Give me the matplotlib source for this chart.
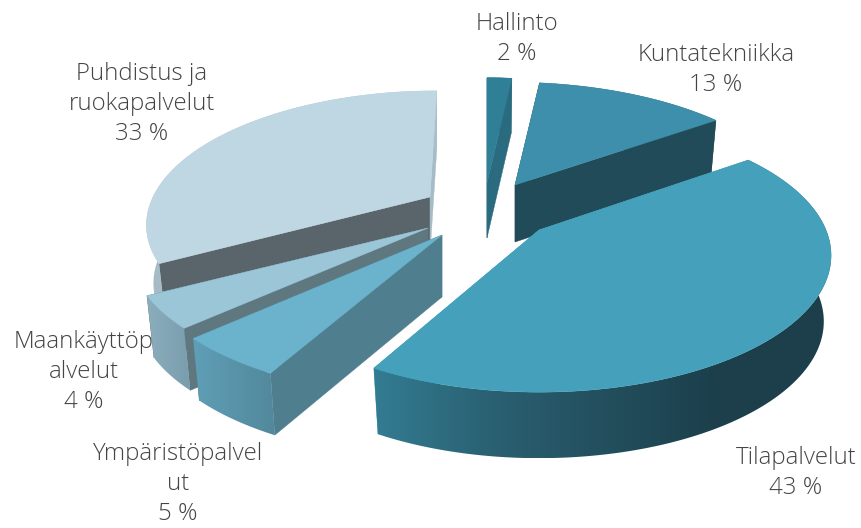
#!/usr/bin/python
import numpy as np
import matplotlib
matplotlib.use("Agg")
import matplotlib.pyplot as plt
from matplotlib.colors import LinearSegmentedColormap
from matplotlib.patches import Polygon

# data, clockwise from 12 o'clock
labels = ["Hallinto", "Kuntatekniikka", "Tilapalvelut",
          "Ympäristöpalvel\nut", "Maankäyttöp\nalvelut", "Puhdistus ja\nruokapalvelut"]
shares = [2, 13, 43, 5, 4, 33]

# per slice look: exploded apex, radii, thickness, lean
apex_x = [487, 515, 539, 442, 428, 430]
apex_y = [183, 185, 230, 235, 228, 197]
rad_x = [235, 280, 287, 298, 292, 277]
rad_y = [125, 122, 132, 132, 128, 126]
thick = [55, 57, 66, 62, 62, 58]
lean = [0, 0.05, 0, 0, 0, -0.064]
top_col = ["#2f7f97", "#3e8fab", "#45a1bb", "#6bb3cc", "#9ac6d8", "#bfd7e2"]
side_col = ["#2a6b7f", "#224b59", "#45a1bb", "#4f7f8f", "#5f7880", "#5a656b"]
end_col = ["#2a6b7f", "#224b59", "#45a1bb", "#4f7f8f", "#5f7880", "#a5bcc6"]
rim_col = [("#2a6b7f", "#2a6b7f"), ("#224b59", "#224b59"),
           ("#337c92", "#2a6173", "#234f5e", "#1c3f4b", "#1c3f4b"),
           ("#5f9fb6", "#52889c"), ("#8badbc", "#7a9dae"), ("#a5bcc6", "#a9c0c9")]
label_x = [517, 716, 796, 178, 84, 142]
label_y = [39, 70, 473, 484, 372, 104]
draw_order = [0, 1, 5, 4, 3, 2]
persp = 0.186

fig = plt.figure(figsize=(8.62, 5.28), dpi=100)
ax = fig.add_axes([0, 0, 1, 1])

edges = np.concatenate([[0], np.cumsum(shares)]) * 2 * np.pi / sum(shares)


def rim(i, th, drop=0.0, squeeze=1.0):
    d = 1 + persp * np.cos(th)
    dy = -rad_y[i] * np.cos(th) / d
    x = apex_x[i] + squeeze * rad_x[i] * np.sin(th) / d + lean[i] * dy
    y = apex_y[i] + drop + dy
    return np.column_stack([x, y])


for n, i in enumerate(draw_order):
    z = 10 * (n + 1)
    th = np.linspace(edges[i], edges[i + 1], 160)
    top = rim(i, th)
    low = rim(i, th, thick[i], 0.975)
    a = (apex_x[i], apex_y[i])
    b = (apex_x[i], apex_y[i] + thick[i])

    # the two cut faces
    ax.fill([a[0], top[0, 0], low[0, 0], b[0]], [a[1], top[0, 1], low[0, 1], b[1]],
            color=side_col[i], lw=0.3, zorder=z)
    ax.fill([a[0], top[-1, 0], low[-1, 0], b[0]], [a[1], top[-1, 1], low[-1, 1], b[1]],
            color=end_col[i], lw=0.3, zorder=z)

    # outer wall, shaded across the screen
    cmap = LinearSegmentedColormap.from_list("rim%d" % i, rim_col[i])
    wall = Polygon(np.vstack([top, low[::-1]]), closed=True, fc="none", ec="none",
                   transform=ax.transData)
    ax.add_patch(wall)
    x0, x1 = min(top[:, 0].min(), low[:, 0].min()), max(top[:, 0].max(), low[:, 0].max())
    y0, y1 = top[:, 1].min(), low[:, 1].max()
    im = ax.imshow(np.linspace(0, 1, 256).reshape(1, -1), cmap=cmap, aspect="auto",
                   extent=(x0, x1, y1, y0), interpolation="bilinear", zorder=z + 1)
    im.set_clip_path(wall)

    ax.fill(np.r_[a[0], top[:, 0]], np.r_[a[1], top[:, 1]], color=top_col[i], lw=0.3, zorder=z + 2)

for i in range(len(labels)):
    ax.text(label_x[i], label_y[i], "%s\n%d %%" % (labels[i], shares[i]),
            ha="center", va="center", family="Open Sans", fontweight="light",
            fontsize=17.3, color="#444444", linespacing=1.33, zorder=100)

ax.set_xlim(0, 862)
ax.set_ylim(528, 0)
ax.axis("off")

fig.savefig("out.png", dpi=100)
